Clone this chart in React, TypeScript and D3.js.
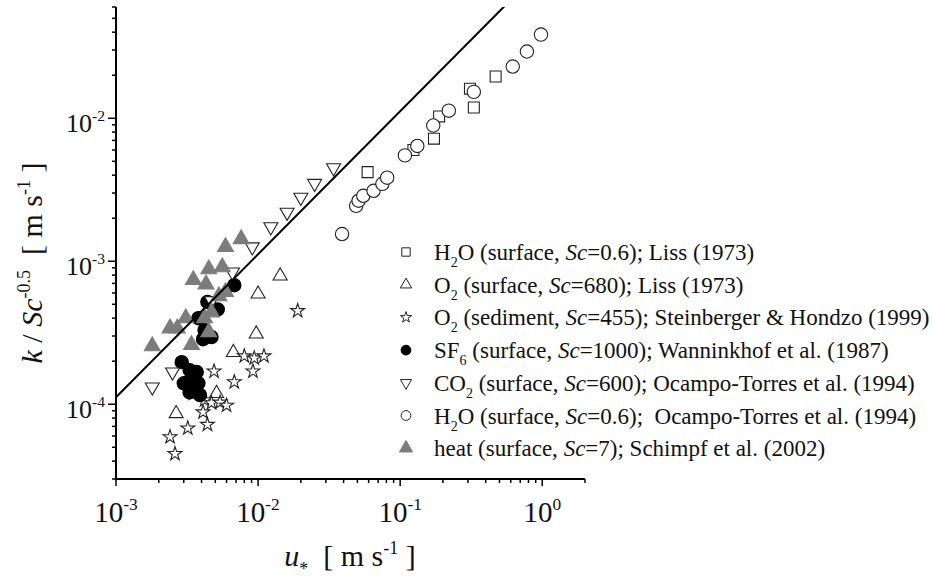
import React from 'react';
import * as d3 from 'd3';

// [u*, k/Sc^-0.5] pairs
const h2oLiss = [
  [5.9e-2, 4.2e-3], [0.124, 6.0e-3], [0.173, 7.2e-3], [0.188, 1.03e-2],
  [0.31, 1.61e-2], [0.33, 1.19e-2], [0.47, 1.96e-2]
];
const o2Liss = [
  [1.43e-2, 7.9e-4], [1.0e-2, 5.9e-4], [9.7e-3, 3.1e-4], [6.7e-3, 2.3e-4],
  [5.1e-3, 1.19e-4], [2.65e-3, 8.6e-5]
];
const o2Sediment = [
  [1.9e-2, 4.5e-4], [8.0e-3, 2.17e-4], [9.4e-3, 2.1e-4], [1.1e-2, 2.17e-4],
  [9.2e-3, 1.7e-4], [6.8e-3, 1.43e-4], [4.9e-3, 1.7e-4], [3.5e-3, 1.19e-4],
  [4.2e-3, 1.07e-4], [4.7e-3, 1.02e-4], [5.4e-3, 1.03e-4], [6.0e-3, 9.8e-5],
  [4.1e-3, 8.8e-5], [4.4e-3, 7.2e-5], [3.2e-3, 6.8e-5], [2.4e-3, 5.9e-5],
  [2.6e-3, 4.5e-5]
];
const sf6 = [
  [6.8e-3, 6.8e-4], [4.4e-3, 5.2e-4], [5.2e-3, 4.6e-4], [3.8e-3, 4.0e-4],
  [4.2e-3, 3.3e-4], [4.1e-3, 2.85e-4], [4.7e-3, 2.95e-4], [2.9e-3, 1.97e-4],
  [3.3e-3, 1.73e-4], [3.7e-3, 1.68e-4], [3.0e-3, 1.4e-4], [3.4e-3, 1.52e-4],
  [3.8e-3, 1.4e-4], [3.3e-3, 1.21e-4], [3.9e-3, 1.16e-4], [3.5e-3, 1.34e-4]
];
const co2 = [
  [3.4e-2, 4.5e-3], [2.5e-2, 3.5e-3], [2.0e-2, 2.8e-3], [1.6e-2, 2.2e-3],
  [1.23e-2, 1.74e-3], [9.1e-3, 1.26e-3], [6.6e-3, 8.4e-4], [4.7e-3, 5.3e-4],
  [2.5e-3, 1.68e-4], [1.8e-3, 1.32e-4]
];
const h2oOcampo = [
  [3.9e-2, 1.55e-3], [4.9e-2, 2.44e-3], [5.1e-2, 2.65e-3], [5.5e-2, 2.87e-3],
  [6.5e-2, 3.11e-3], [7.5e-2, 3.48e-3], [8.1e-2, 3.84e-3], [0.108, 5.5e-3],
  [0.132, 6.4e-3], [0.171, 8.9e-3], [0.22, 1.13e-2], [0.33, 1.53e-2],
  [0.62, 2.3e-2], [0.78, 2.93e-2], [0.98, 3.85e-2]
];
const heat = [
  [7.6e-3, 1.43e-3], [5.9e-3, 1.26e-3], [5.6e-3, 9.1e-4], [4.5e-3, 8.8e-4],
  [3.5e-3, 7.4e-4], [4.3e-3, 6.9e-4], [5.9e-3, 6.1e-4], [5.3e-3, 5.7e-4],
  [4.7e-3, 4.4e-4], [4.2e-3, 4.0e-4], [3.1e-3, 4.0e-4], [2.7e-3, 3.4e-4],
  [2.4e-3, 3.4e-4], [1.8e-3, 2.55e-4], [3.4e-3, 2.6e-4], [4.5e-3, 3.2e-4]
];

// fitted line k = 0.112 u*
const fitU = [1e-3, 0.54];
const fitK = [1.12e-4, 6.05e-2];

const xMajor = [1e-3, 1e-2, 1e-1, 1];
const yMajor = [1e-4, 1e-3, 1e-2];

// legend text pieces: plain, sub(script), it(alic)
const legendLabels = [
  [['H'], ['2', 'sub'], ['O (surface, '], ['Sc', 'it'], ['=0.6); Liss (1973)']],
  [['O'], ['2', 'sub'], [' (surface, '], ['Sc', 'it'], ['=680); Liss (1973)']],
  [['O'], ['2', 'sub'], [' (sediment, '], ['Sc', 'it'], ['=455); Steinberger & Hondzo (1999)']],
  [['SF'], ['6', 'sub'], [' (surface, '], ['Sc', 'it'], ['=1000); Wanninkhof et al. (1987)']],
  [['CO'], ['2', 'sub'], [' (surface, '], ['Sc', 'it'], ['=600); Ocampo-Torres et al. (1994)']],
  [['H'], ['2', 'sub'], ['O (surface, '], ['Sc', 'it'], ['=0.6);  Ocampo-Torres et al. (1994)']],
  [['heat (surface, '], ['Sc', 'it'], ['=7); Schimpf et al. (2002)']]
];

const FONT = '"Liberation Serif", "Times New Roman", serif';
const INK = '#222';

const series = [
  { data: h2oLiss, type: d3.symbolSquare, size: 120, fill: '#fff', stroke: INK, rot: 0 },
  { data: o2Liss, type: d3.symbolTriangle, size: 85, fill: '#fff', stroke: INK, rot: 0 },
  { data: o2Sediment, type: d3.symbolStar, size: 60, fill: '#fff', stroke: INK, rot: 0 },
  { data: sf6, type: d3.symbolCircle, size: 140, fill: '#000', stroke: '#000', rot: 0 },
  { data: co2, type: d3.symbolTriangle, size: 85, fill: '#fff', stroke: INK, rot: 180 },
  { data: h2oOcampo, type: d3.symbolCircle, size: 140, fill: '#fff', stroke: INK, rot: 0 },
  { data: heat, type: d3.symbolTriangle, size: 110, fill: '#7c7c7c', stroke: '#7c7c7c', rot: 0 }
];

const legendSizes = [70, 55, 38, 75, 55, 75, 75];

const Pow = ({ x, y, exp, size, anchor }) => (
  <text x={x} y={y} textAnchor={anchor} fontSize={size} fontFamily={FONT} fill="#111">
    10<tspan fontSize={size * 0.6} dy={-size * 0.42}>{exp}</tspan>
  </text>
);

export default function App() {
  const width = 933;
  const height = 578;
  const x = d3.scaleLog().domain([1e-3, 2]).range([116, 585]);
  const y = d3.scaleLog().domain([3e-5, 0.06]).range([479, 7]);

  const xTicks = x.ticks();
  const yTicks = y.ticks();
  const isMajor = (v) => Math.abs(Math.log10(v) - Math.round(Math.log10(v))) < 1e-6;

  const line = d3.line().x((d) => x(d[0])).y((d) => y(d[1]));
  const fitPts = fitU.map((u, i) => [u, fitK[i]]);

  const legX = 406;
  const legTextX = 434;
  const legY0 = 252;
  const legDy = 32.7;

  return (
    <svg width={width} height={height} style={{ position: 'absolute', left: 0, top: 0, background: '#fff' }}>
      <defs>
        <clipPath id="plot">
          <rect x={116} y={7} width={469} height={472} />
        </clipPath>
      </defs>

      {/* markers */}
      {series.map((s, si) => {
        const p = d3.symbol().type(s.type).size(s.size)();
        return (
          <g key={si}>
            {s.data.map((d, i) => (
              <path
                key={i}
                d={p}
                transform={`translate(${x(d[0])},${y(d[1])}) rotate(${s.rot})`}
                fill={s.fill}
                stroke={s.stroke}
                strokeWidth={1.1}
              />
            ))}
          </g>
        );
      })}

      {/* fit line */}
      <path d={line(fitPts)} fill="none" stroke="#000" strokeWidth={2} clipPath="url(#plot)" />

      {/* axes */}
      <line x1={116} x2={116} y1={y.range()[1]} y2={y.range()[0] + 1} stroke="#000" strokeWidth={2} />
      <line x1={115} x2={585} y1={479} y2={479} stroke="#000" strokeWidth={2} />
      {xTicks.map((t, i) => (
        <line key={i} x1={x(t)} x2={x(t)} y1={479} y2={479 + (isMajor(t) ? 7 : 4)} stroke="#000" strokeWidth={1.5} />
      ))}
      {yTicks.map((t, i) => (
        <line key={i} y1={y(t)} y2={y(t)} x1={116} x2={116 - (isMajor(t) ? 8 : 4)} stroke="#000" strokeWidth={1.5} />
      ))}
      {xMajor.map((t, i) => (
        <Pow key={i} x={x(t)} y={522} exp={String(Math.round(Math.log10(t)))} size={29} anchor="middle" />
      ))}
      {yMajor.map((t, i) => (
        <Pow key={i} x={105} y={y(t) + 14} exp={String(Math.round(Math.log10(t)))} size={26} anchor="end" />
      ))}

      {/* axis titles */}
      <text x={350} y={566} textAnchor="middle" fontSize={30} fontFamily={FONT} fill="#111" style={{ whiteSpace: 'pre' }}>
        <tspan fontStyle="italic">u</tspan>
        <tspan fontSize={18} dy={9}>*</tspan>
        <tspan dy={-9}>  [ m s</tspan>
        <tspan fontSize={18} dy={-12}>-1</tspan>
        <tspan dy={12}> ]</tspan>
      </text>
      <text transform="translate(42,263) rotate(-90)" textAnchor="middle" fontSize={30} fontFamily={FONT} fill="#111" style={{ whiteSpace: 'pre' }}>
        <tspan fontStyle="italic">k</tspan>
        <tspan> / </tspan>
        <tspan fontStyle="italic">Sc</tspan>
        <tspan fontSize={18} dy={-12}>-0.5</tspan>
        <tspan dy={12}>  [ m s</tspan>
        <tspan fontSize={18} dy={-12}>-1</tspan>
        <tspan dy={12}> ]</tspan>
      </text>

      {/* legend */}
      {series.map((s, i) => {
        const cy = legY0 + i * legDy;
        const p = d3.symbol().type(s.type).size(legendSizes[i])();
        return (
          <g key={i}>
            <path d={p} transform={`translate(${legX},${cy}) rotate(${s.rot})`} fill={s.fill} stroke={s.stroke} strokeWidth={1} />
            <text x={legTextX} y={cy + 8} fontSize={23} fontFamily={FONT} fill="#111" style={{ whiteSpace: 'pre' }}>
              {legendLabels[i].map((seg, j) => {
                const prev = j > 0 ? legendLabels[i][j - 1][1] : undefined;
                const dy = seg[1] === 'sub' ? 7 : prev === 'sub' ? -7 : 0;
                return (
                  <tspan key={j} dy={dy} fontSize={seg[1] === 'sub' ? 14 : 23} fontStyle={seg[1] === 'it' ? 'italic' : 'normal'}>
                    {seg[0]}
                  </tspan>
                );
              })}
            </text>
          </g>
        );
      })}
    </svg>
  );
}
